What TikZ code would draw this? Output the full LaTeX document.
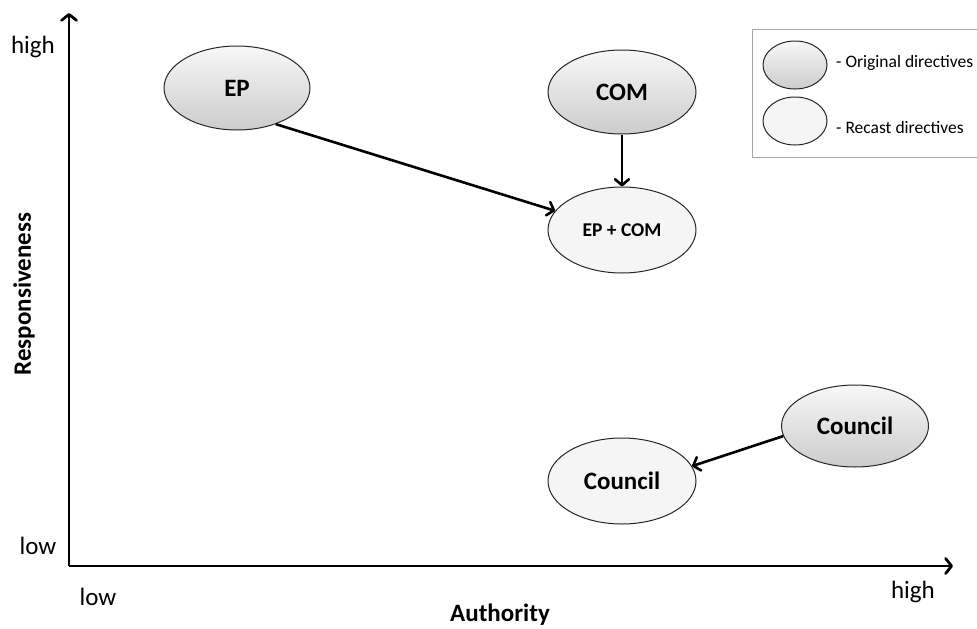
\documentclass[tikz,border=0pt]{standalone}
\usepackage{fontspec}
\setmainfont{Carlito}
\usetikzlibrary{shapes.geometric,arrows.meta}
\begin{document}
\begin{tikzpicture}[x=1pt,y=-1pt,
  orig/.style={ellipse,draw=black!85,line width=1pt,top color=gray!6,bottom color=gray!40,inner sep=0pt},
  recast/.style={ellipse,draw=black!85,line width=1pt,fill=gray!8,inner sep=0pt},
  conn/.style={-{Straight Barb[length=6pt,width=14pt,round]},line width=2.6pt},
  axis/.style={-{Straight Barb[length=6pt,width=15pt,round]},line width=2.8pt},
  lbl/.style={font=\fontsize{25}{29}\selectfont,inner sep=0pt},
  blbl/.style={font=\fontsize{25}{29}\selectfont\bfseries,inner sep=0pt},
  leg/.style={font=\fontsize{17.5}{21}\selectfont,inner sep=0pt,anchor=west}]
\useasboundingbox (0,0) rectangle (977,629);
% axes
\coordinate (O) at (69,566);
\coordinate (ytip) at (69,13);
\coordinate (xtip) at (953,566);
\draw[axis] (O) -- (ytip);
\draw[axis] (O) -- (xtip);
% axis labels
\node[lbl] (yhigh) at (33,47) {high};
\node[lbl] (ylow) at (38,546) {low};
\node[lbl] (xlow) at (98,597) {low};
\node[lbl] (xhigh) at (913,592) {high};
\node[blbl] (xname) at (500,615) {Authority};
\node[blbl,rotate=90] (yname) at (24,294) {Responsiveness};
% ellipses
\node[orig,minimum width=146pt,minimum height=84pt,font=\fontsize{25}{29}\selectfont\bfseries] (EP) at (237,88) {EP};
\node[orig,minimum width=148pt,minimum height=84pt,font=\fontsize{25}{29}\selectfont\bfseries] (COM) at (622,92) {COM};
\node[recast,minimum width=148pt,minimum height=86pt,font=\fontsize{19.5}{23}\selectfont\bfseries] (EPCOM) at (622,230) {EP + COM};
\node[orig,minimum width=147pt,minimum height=82pt,font=\fontsize{25}{29}\selectfont\bfseries] (CO) at (855,426) {Council};
\node[recast,minimum width=148pt,minimum height=86pt,font=\fontsize{25}{29}\selectfont\bfseries] (CR) at (622,481) {Council};
% connectors
\draw[conn] (EP.-43) -- (EPCOM.164);
\draw[conn] (COM) -- (EPCOM);
\draw[conn] (CO.188) -- (CR.12);
% legend
\node[draw=gray!70,line width=0.9pt,minimum width=240pt,minimum height=128pt,anchor=north west,inner sep=0pt] (legbox) at (752,29) {};
\node[orig,minimum width=64pt,minimum height=48pt] (lorig) at (795,65) {};
\node[recast,minimum width=64pt,minimum height=48pt] (lrec) at (795,121) {};
\node[leg] (torig) at (836,63) {- Original directives};
\node[leg] (trec) at (836,127) {- Recast directives};
\end{tikzpicture}
\end{document}
